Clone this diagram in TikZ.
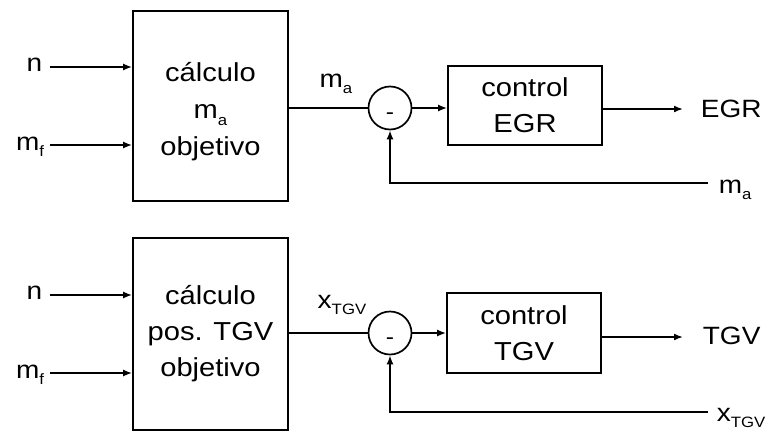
\documentclass[tikz,border=0pt]{standalone}
\usepackage{fontspec}
\setmainfont{Liberation Sans}[FakeStretch=1.12]
\usetikzlibrary{arrows.meta}
\newcommand\mysub[1]{\raisebox{-0.45ex}{\fontsize{15}{15}\selectfont #1}}
\newcommand\mymin{\raisebox{-11pt}[0pt][0pt]{-}}
\begin{document}
\begin{tikzpicture}[x=1pt,y=-1pt,line width=1.7pt,
  blk/.style={draw,rectangle,align=center,inner sep=0,font=\fontsize{26}{36}\selectfont},
  sumc/.style={draw,circle,minimum size=43pt,inner sep=0,font=\fontsize{22}{22}\selectfont},
  lbl/.style={inner sep=0,font=\fontsize{25}{30}\selectfont},
  arr/.style={-{Latex[length=9pt,width=7pt]}}]
\useasboundingbox (0,0) rectangle (770,434);
% ---------- top ----------
\node[blk,minimum width=155pt,minimum height=190pt] (c1) at (210.5,106) {};
\node[align=center,inner sep=0,font=\fontsize{26}{37}\selectfont] (t1) at (210.5,112) {cálculo\\m\mysub{a}\\objetivo};
\node[sumc] (s1) at (390,108) {\mymin};
\node[blk,minimum width=154pt,minimum height=79pt] (b2) at (525,105.5) {control\\EGR};
\coordinate (i1) at (50,67);
\coordinate (i2) at (50,145);
\node[lbl,anchor=east] (ln1) at (43,65) {n};
\node[lbl,anchor=east] (lm1) at (45,147) {m\mysub{f}};
\draw[arr] (i1) -- (i1 -| c1.west);
\draw[arr] (i2) -- (i2 -| c1.west);
\draw (s1.west -| c1.east) -- (s1.west);
\node[lbl] (ma1) at (336,84) {m\mysub{a}};
\draw[arr] (s1.east) -- (s1.east -| b2.west);
\coordinate (o1) at (683,109);
\node[lbl,anchor=west] (egr) at (700,109) {EGR};
\draw[arr] (o1 -| b2.east) -- (o1);
\coordinate (f1) at (708,183);
\node[lbl,anchor=west] (ma2) at (718,190) {m\mysub{a}};
\draw[arr] (f1) -| (s1.south);
% ---------- bottom ----------
\node[blk,minimum width=155pt,minimum height=192pt] (c2) at (210.5,334) {cálculo\\pos. TGV\\objetivo};
\node[sumc] (s2) at (390,333) {\mymin};
\node[blk,minimum width=154pt,minimum height=80pt] (b4) at (524,333) {control\\TGV};
\coordinate (i3) at (50,295);
\coordinate (i4) at (50,373);
\node[lbl,anchor=east] (ln2) at (43,293) {n};
\node[lbl,anchor=east] (lm2) at (45,375) {m\mysub{f}};
\draw[arr] (i3) -- (i3 -| c2.west);
\draw[arr] (i4) -- (i4 -| c2.west);
\draw (s2.west -| c2.east) -- (s2.west);
\node[lbl] (x1) at (342,305) {x\mysub{TGV}};
\draw[arr] (s2.east) -- (s2.east -| b4.west);
\coordinate (o2) at (683,337);
\node[lbl,anchor=west] (tgv) at (702,336) {TGV};
\draw[arr] (o2 -| b4.east) -- (o2);
\coordinate (f2) at (708,412);
\node[lbl,anchor=west] (x2) at (716,418) {x\mysub{TGV}};
\draw[arr] (f2) -| (s2.south);
\end{tikzpicture}
\end{document}
